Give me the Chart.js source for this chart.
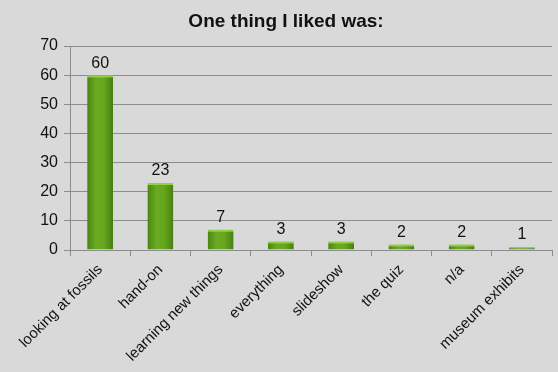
<!DOCTYPE html>
<html>
<head>
<meta charset="utf-8">
<script src="https://cdn.jsdelivr.net/npm/chart.js@4"></script>
<style>
  html, body { margin: 0; padding: 0; background: #d9d9d9; }
  #wrap { width: 558px; height: 372px; position: relative; }
</style>
</head>
<body>
<div id="wrap"><canvas id="chart"></canvas></div>
<script>
var categories = ['looking at fossils', 'hand-on', 'learning new things', 'everything', 'slideshow', 'the quiz', 'n/a', 'museum exhibits'];
var counts = [60, 23, 7, 3, 3, 2, 2, 1];
var yTicks = [0, 10, 20, 30, 40, 50, 60, 70];
var titleText = 'One thing I liked was:';

var FONT = '"Liberation Sans", Arial, sans-serif';

// draw the title and the value above each bar
var labelsPlugin = {
    id: 'labels',
    afterDatasetsDraw: function(chart) {
        var ctx = chart.ctx;
        ctx.save();
        ctx.fillStyle = '#111';
        ctx.font = 'bold 19px ' + FONT;
        ctx.textAlign = 'center';
        ctx.textBaseline = 'middle';
        ctx.fillText(titleText, 286, 22);

        ctx.font = '16px ' + FONT;
        ctx.textBaseline = 'bottom';
        var meta = chart.getDatasetMeta(0);
        for (var i = 0; i < meta.data.length; i++) {
            var bar = meta.data[i];
            ctx.fillText(counts[i], bar.x, bar.y - 4);
        }
        ctx.restore();
    }
};

// green bar with darker edges
function barFill(context) {
    var chart = context.chart;
    if (!chart.chartArea) return '#5c9c18';
    var x = chart.scales.x.getPixelForValue(context.dataIndex);
    var g = chart.ctx.createLinearGradient(x - 13, 0, x + 13, 0);
    g.addColorStop(0, '#4a8414');
    g.addColorStop(0.35, '#6aab22');
    g.addColorStop(0.65, '#66a61f');
    g.addColorStop(1, '#467f12');
    return g;
}

new Chart(document.getElementById('chart'), {
    type: 'bar',
    data: {
        labels: categories,
        datasets: [{
            data: counts,
            backgroundColor: barFill,
            borderColor: '#92d046',
            borderWidth: {top: 2, left: 0, right: 0, bottom: 0},
            barPercentage: 0.43,
            categoryPercentage: 1.0
        }]
    },
    plugins: [labelsPlugin],
    options: {
        responsive: true,
        maintainAspectRatio: false,
        animation: false,
        layout: { padding: { top: 46, right: 6, left: 4, bottom: 0 } },
        plugins: {
            legend: { display: false },
            title: { display: false },
            tooltip: { enabled: false }
        },
        scales: {
            x: {
                afterFit: function(axis) {
                    axis.height = 122;
                    axis.paddingLeft = 0;
                    axis.paddingRight = 0;
                },
                grid: {
                    offset: true,
                    drawOnChartArea: false,
                    drawTicks: true,
                    tickLength: 6,
                    color: '#8c8c8c'
                },
                border: { color: '#8c8c8c' },
                ticks: {
                    minRotation: 45,
                    maxRotation: 45,
                    color: '#111',
                    font: { family: FONT, size: 15 },
                    padding: 5
                }
            },
            y: {
                min: 0,
                max: 70,
                afterBuildTicks: function(axis) {
                    axis.ticks = yTicks.map(function(v) { return {value: v}; });
                },
                afterFit: function(axis) {
                    axis.width = 66;
                },
                grid: {
                    color: '#8c8c8c',
                    tickLength: 6
                },
                border: { color: '#8c8c8c' },
                ticks: {
                    color: '#111',
                    font: { family: FONT, size: 16 },
                    padding: 6
                }
            }
        }
    }
});
</script>
</body>
</html>
